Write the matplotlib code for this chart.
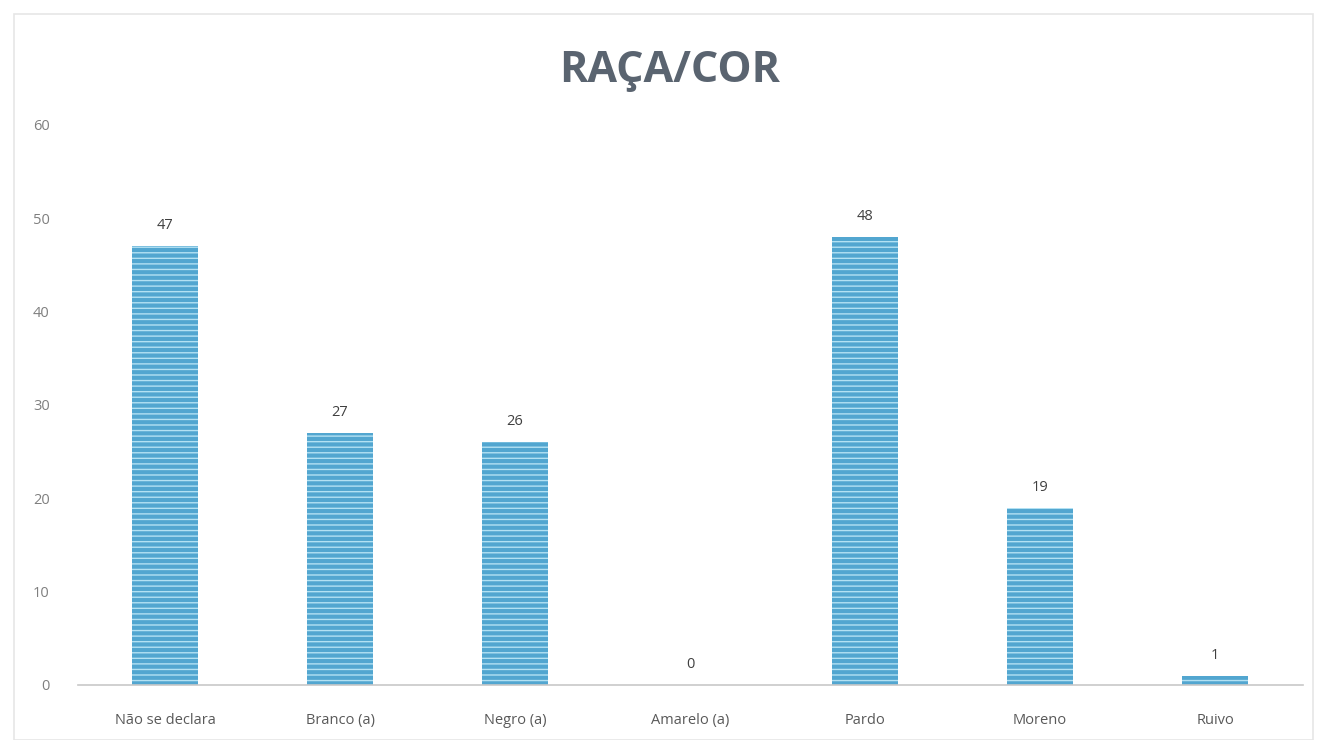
import matplotlib
matplotlib.use("Agg")
import matplotlib.pyplot as plt
from matplotlib.patches import Rectangle

categories = ["Não se declara", "Branco (a)", "Negro (a)", "Amarelo (a)", "Pardo", "Moreno", "Ruivo"]
values = [47, 27, 26, 0, 48, 19, 1]
yticks = [0, 10, 20, 30, 40, 50, 60]
title = "RAÇA/COR"

plt.rcParams['font.family'] = ['Open Sans', 'DejaVu Sans']
plt.rcParams['hatch.linewidth'] = 1.0

W, H = 1321, 740
fig = plt.figure(figsize=(W / 100, H / 100), dpi=100)
fig.patch.set_facecolor("white")

# outer chart frame
fig.patches.append(Rectangle((14 / W, 0), (1313 - 14) / W, 1 - 14 / H,
                             transform=fig.transFigure, fill=False,
                             edgecolor="#e6e6e6", linewidth=1.2))

ax = fig.add_axes([77.5 / W, 1 - 685 / H, (1302.5 - 77.5) / W, (685 - 125) / H])
x = list(range(len(categories)))
bars = ax.bar(x, values, width=0.38, color="#52a6d0", edgecolor="#b3e1f3",
              hatch="---", linewidth=0)

for xi, v in zip(x, values):
    ax.text(xi, v + 1.4, str(v), ha="center", va="bottom", fontsize=10.5, color="#404040")

ax.set_xlim(-0.5, len(categories) - 0.5)
ax.set_ylim(0, 60)
ax.set_yticks(yticks)
ax.set_xticks(x)
ax.set_xticklabels(categories, fontsize=10.5, color="#595959")
ax.tick_params(axis="y", labelsize=10.5, labelcolor="#7f7f7f", length=0, pad=20)
ax.tick_params(axis="x", length=0, pad=20)
for s in ["top", "right", "left"]:
    ax.spines[s].set_visible(False)
ax.spines["bottom"].set_color("#c8c8c8")
ax.spines["bottom"].set_linewidth(1.2)

fig.text(670 / W, 1 - 70 / H, title, ha="center", va="center", fontsize=31,
         fontweight="bold", color="#5a6470")

fig.savefig("out.png", dpi=100, facecolor="white")
